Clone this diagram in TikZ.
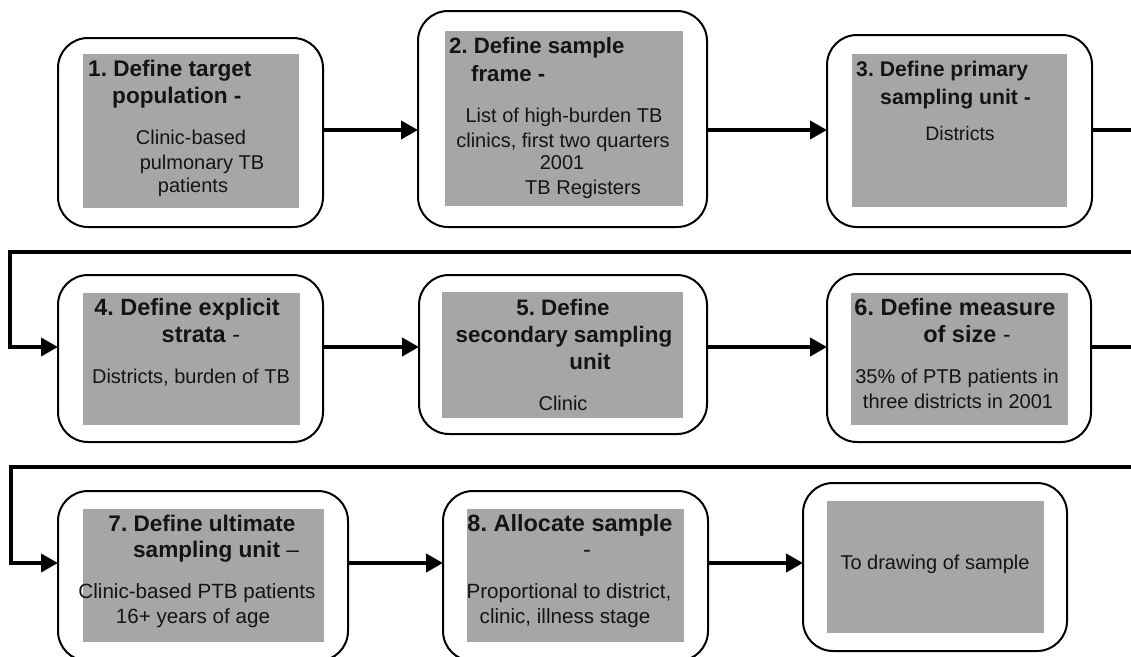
\documentclass[tikz,border=0pt]{standalone}
\usepackage{fontspec}
\setmainfont{Liberation Sans}
\usetikzlibrary{arrows.meta}
\definecolor{panelgray}{RGB}{166,166,166}
\definecolor{inkblack}{RGB}{20,20,20}
\frenchspacing
\begin{document}
\begin{tikzpicture}[x=1pt,y=-1pt,
  stepbox/.style={draw=black, line width=2pt, rounded corners=30pt, fill=white, inner sep=0pt, outer sep=0pt},
  panel/.style={fill=panelgray},
  conn/.style={line width=4pt, -{Triangle[length=17pt,width=18pt]}},
  ttl/.style={font=\fontsize{#1}{#1}\selectfont\bfseries, inner sep=0pt, text=inkblack},
  ttl/.default=22.5,
  txt/.style={font=\fontsize{#1}{#1}\selectfont, inner sep=0pt, text=inkblack},
  txt/.default=20,
]
\clip (0,0) rectangle (1131,656);

% levels of the three rows of connectors
\coordinate (r1) at (0,130);
\coordinate (r2) at (0,347);
\coordinate (r3) at (0,563);

% ---- outer rounded boxes ----
\node[stepbox, minimum width=265pt, minimum height=189pt] (b1) at (190.5,132.5) {};
\node[stepbox, minimum width=289pt, minimum height=216pt] (b2) at (562.5,119) {};
\node[stepbox, minimum width=265pt, minimum height=192pt] (b3) at (959.5,131) {};
\node[stepbox, minimum width=265pt, minimum height=167pt] (b4) at (190.5,358.5) {};
\node[stepbox, minimum width=288pt, minimum height=159pt] (b5) at (563,354.5) {};
\node[stepbox, minimum width=264pt, minimum height=168pt] (b6) at (959,358) {};
\node[stepbox, minimum width=290pt, minimum height=170pt] (b7) at (203,576) {};
\node[stepbox, minimum width=265pt, minimum height=170pt] (b8) at (575.5,576) {};
\node[stepbox, minimum width=264pt, minimum height=168pt] (b9) at (935,567) {};

% ---- grey text panels ----
\fill[panel] (83,54) rectangle (299,208);
\fill[panel] (445,31) rectangle (683,206);
\fill[panel] (852,54) rectangle (1067,207);
\fill[panel] (83,293) rectangle (300,425);
\fill[panel] (442,292) rectangle (683,418);
\fill[panel] (851,293) rectangle (1068,425);
\fill[panel] (83,509) rectangle (324,642);
\fill[panel] (467,509) rectangle (684,642);
\fill[panel] (827,501) rectangle (1044,633);

% ---- step 1 ----
\node[ttl=22.6, anchor=base west] (t1a) at (88,76) {1. Define target};
\node[ttl=22.6, anchor=base west] (t1b) at (112,103) {population -};
\node[txt, anchor=base] (t1c) at (191,144) {Clinic-based};
\node[txt, anchor=base] (t1d) at (202,169) {pulmonary TB};
\node[txt, anchor=base] (t1e) at (193,192) {patients};

% ---- step 2 ----
\node[ttl=22.2, anchor=base west] (t2a) at (449,53) {2. Define sample};
\node[ttl=22.2, anchor=base west] (t2b) at (471,81) {frame -};
\node[txt, anchor=base] (t2c) at (564,122) {List of high-burden TB};
\node[txt, anchor=base] (t2d) at (563,147) {clinics, first two quarters};
\node[txt, anchor=base] (t2e) at (562,169) {2001};
\node[txt, anchor=base] (t2f) at (583,194) {TB Registers};

% ---- step 3 ----
\node[ttl=21.2, anchor=base west] (t3a) at (856,76) {3. Define primary};
\node[ttl=21.2, anchor=base west] (t3b) at (880,104) {sampling unit -};
\node[txt=19.5, anchor=base] (t3c) at (960,140) {Districts};

% ---- step 4 ----
\node[ttl=23.5, anchor=base] (t4a) at (187,315) {4. Define explicit};
\node[ttl=23.5, anchor=base] (t4b) at (201,342) {strata \textmd{-}};
\node[txt, anchor=base] (t4c) at (191,383) {Districts, burden of TB};

% ---- step 5 ----
\node[ttl=22.4, anchor=base] (t5a) at (563,315) {5. Define};
\node[ttl=22.4, anchor=base] (t5b) at (564,342) {secondary sampling};
\node[ttl=22.4, anchor=base] (t5c) at (590,369) {unit};
\node[txt, anchor=base] (t5d) at (563,410) {Clinic};

% ---- step 6 ----
\node[ttl=23.5, anchor=base] (t6a) at (955,315) {6. Define measure};
\node[ttl=23.5, anchor=base] (t6b) at (967,342) {of size \textmd{-}};
\node[txt=20, anchor=base] (t6c) at (957,383) {35\% of PTB patients in};
\node[txt=20, anchor=base] (t6d) at (958,408) {three districts in 2001};

% ---- step 7 ----
\node[ttl=22.6, anchor=base] (t7a) at (202,531) {7. Define ultimate};
\node[ttl=22.6, anchor=base] (t7b) at (216,557) {sampling unit \textmd{–}};
\node[txt=20.6, anchor=base] (t7c) at (197,598) {Clinic-based PTB patients};
\node[txt=20.6, anchor=base] (t7d) at (193,623) {16+ years of age};

% ---- step 8 ----
\node[ttl=23.5, anchor=base] (t8a) at (570,531) {8. Allocate sample};
\node[ttl=23.5, anchor=base] (t8b) at (587,557) {\textmd{-}};
\node[txt=20.6, anchor=base] (t8c) at (569,598) {Proportional to district,};
\node[txt=20.6, anchor=base] (t8d) at (565,623) {clinic, illness stage};

% ---- final step ----
\node[txt, anchor=base] (t9a) at (935,569) {To drawing of sample};

% ---- connectors ----
\draw[conn] (b1.east |- r1) -- (b2.west |- r1);
\draw[conn] (b2.east |- r1) -- (b3.west |- r1);
\draw[conn] (b3.east |- r1) -- (1150,130) -- (1150,252) -- (10,252) -- (10,347) -- (b4.west |- r2);
\draw[conn] (b4.east |- r2) -- (b5.west |- r2);
\draw[conn] (b5.east |- r2) -- (b6.west |- r2);
\draw[conn] (b6.east |- r2) -- (1150,347) -- (1150,467) -- (11,467) -- (11,563) -- (b7.west |- r3);
\draw[conn] (b7.east |- r3) -- (b8.west |- r3);
\draw[conn] (b8.east |- r3) -- (b9.west |- r3);
\end{tikzpicture}
\end{document}
